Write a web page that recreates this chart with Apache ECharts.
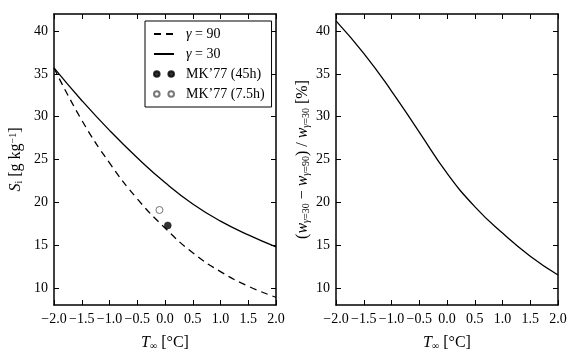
<!DOCTYPE html>
<html>
<head>
<meta charset="utf-8">
<script src="https://cdn.jsdelivr.net/npm/echarts@6/dist/echarts.min.js"></script>
<style>
  html, body { margin: 0; padding: 0; background: #fff; }
  #chart { width: 581px; height: 356px; }
</style>
</head>
<body>
<div id="chart"></div>
<script>
// temperature grid, T_inf [°C]
var tInf = [-2.0, -1.5, -1.0, -0.5, 0.0, 0.5, 1.0, 1.5, 2.0];
// left panel: bulk salinity S_i [g/kg]
var sGamma90 = [35.7, 29.6, 24.6, 20.4, 17.0, 14.1, 11.9, 10.2, 8.9];
var sGamma30 = [35.7, 31.9, 28.4, 25.2, 22.3, 19.8, 17.8, 16.2, 14.8];
// observations
var mk45h = [[0.05, 17.3]];
var mk75h = [[-0.1, 19.1]];
// right panel: relative difference [%]
var relDiff = [41.2, 37.4, 33.0, 28.2, 23.4, 19.5, 16.4, 13.7, 11.5];
// tick labels
var yTicks = [10, 15, 20, 25, 30, 35, 40];

var FONT = 'Liberation Serif';
var pairs = function(xs, ys) { return xs.map(function(x, i) { return [x, ys[i]]; }); };
var fmtX = function(v) { return v.toFixed(1).replace('-', '\u2212'); };

var rich = {
  it: { fontFamily: FONT, fontStyle: 'italic', fontSize: 16, color: '#000' },
  rm: { fontFamily: FONT, fontSize: 16, color: '#000' },
  sub: { fontFamily: FONT, fontSize: 10, color: '#000', verticalAlign: 'bottom', padding: [6, 0, 0, 0] },
  subit: { fontFamily: FONT, fontStyle: 'italic', fontSize: 10, color: '#000', verticalAlign: 'bottom', padding: [6, 0, 0, 0] },
  sup: { fontFamily: FONT, fontSize: 10, color: '#000', verticalAlign: 'top', padding: [0, 0, 6, 0] }
};

function xAxes(grid) {
  var base = {
    type: 'value', gridIndex: grid, min: -2, max: 2, interval: 0.5,
    axisLine: { show: true, onZero: false, lineStyle: { color: '#000', width: 1.5 } },
    axisTick: { show: true, inside: true, length: 5, lineStyle: { color: '#000', width: 1 } },
    splitLine: { show: false }
  };
  return [
    Object.assign({}, base, {
      position: 'bottom',
      axisLabel: { formatter: fmtX, fontFamily: FONT, fontSize: 14, color: '#000', margin: 7 },
      name: '{it|T}{sub|\u221E}{rm| [\u00B0C]}',
      nameLocation: 'middle', nameGap: 30,
      nameTextStyle: { rich: rich }
    }),
    Object.assign({}, base, { position: 'top', axisLabel: { show: false } })
  ];
}

function yAxes(grid, name, gap) {
  var base = {
    type: 'value', gridIndex: grid, min: 8, max: 42,
    axisLine: { show: true, onZero: false, lineStyle: { color: '#000', width: 1.5 } },
    axisTick: { show: true, inside: true, length: 5, customValues: yTicks, lineStyle: { color: '#000', width: 1 } },
    splitLine: { show: false }
  };
  return [
    Object.assign({}, base, {
      position: 'left',
      axisLabel: { customValues: yTicks, fontFamily: FONT, fontSize: 14, color: '#000', margin: 6 },
      name: name, nameLocation: 'middle', nameGap: gap,
      nameTextStyle: { rich: rich }
    }),
    Object.assign({}, base, { position: 'right', axisLabel: { show: false } })
  ];
}

var dotsIcon = 'path://M0,0M20,12M0,6a2.8,2.8 0 1,0 5.6,0a2.8,2.8 0 1,0 -5.6,0M14.4,6a2.8,2.8 0 1,0 5.6,0a2.8,2.8 0 1,0 -5.6,0';
var noDot = { color: 'rgba(0,0,0,0)', borderColor: 'rgba(0,0,0,0)', borderWidth: 0 };

var option = {
  animation: false,
  backgroundColor: '#fff',
  grid: [
    { left: 54, top: 14, width: 222, height: 291 },
    { left: 336, top: 14, width: 222, height: 291 }
  ],
  xAxis: xAxes(0).concat(xAxes(1)),
  yAxis: yAxes(0, '{it|S}{sub|i}{rm| [g kg}{sup|\u22121}{rm|]}', 30)
    .concat(yAxes(1, '{rm|(}{it|w}{subit|\u03B3}{sub|=30}{rm| \u2212 }{it|w}{subit|\u03B3}{sub|=90}{rm|) / }{it|w}{subit|\u03B3}{sub|=30}{rm| [%]}', 25)),
  legend: {
    left: 145, top: 21,
    orient: 'vertical',
    backgroundColor: '#fff',
    borderColor: '#000', borderWidth: 1, borderRadius: 0,
    padding: [6, 7, 6, 8],
    itemGap: 6, itemWidth: 20, itemHeight: 12,
    data: [
      { name: '\u03B3 = 90', itemStyle: noDot },
      { name: '\u03B3 = 30', itemStyle: noDot },
      { name: 'MK\u201977 (45h)', icon: dotsIcon },
      { name: 'MK\u201977 (7.5h)', icon: dotsIcon }
    ],
    formatter: function(n) {
      if (n.charAt(0) === '\u03B3') return '{it|\u03B3}{rm|' + n.slice(1) + '}';
      return '{rm|' + n + '}';
    },
    textStyle: { fontFamily: FONT, fontSize: 14, color: '#000', padding: [0, 0, 0, 7], rich: {
      it: { fontFamily: FONT, fontStyle: 'italic', fontSize: 14, color: '#000' },
      rm: { fontFamily: FONT, fontSize: 14, color: '#000' }
    } }
  },
  series: [
    {
      name: '\u03B3 = 90', type: 'line', xAxisIndex: 0, yAxisIndex: 0,
      data: pairs(tInf, sGamma90), symbol: 'none', smooth: true,
      itemStyle: { color: '#000' },
      lineStyle: { color: '#000', width: 1.3, type: [7, 5] }
    },
    {
      name: '\u03B3 = 30', type: 'line', xAxisIndex: 0, yAxisIndex: 0,
      data: pairs(tInf, sGamma30), symbol: 'none', smooth: true,
      itemStyle: { color: '#000' },
      lineStyle: { color: '#000', width: 1.3 }
    },
    {
      name: 'MK\u201977 (45h)', type: 'scatter', xAxisIndex: 0, yAxisIndex: 0,
      data: mk45h, symbolSize: 7, z: 5,
      itemStyle: { color: '#000', borderColor: '#000', borderWidth: 0.5 }
    },
    {
      name: 'MK\u201977 (7.5h)', type: 'scatter', xAxisIndex: 0, yAxisIndex: 0,
      data: mk75h, symbolSize: 7, z: 5,
      itemStyle: { color: '#fff', borderColor: '#555', borderWidth: 1 }
    },
    {
      name: 'relDiff', type: 'line', xAxisIndex: 2, yAxisIndex: 2,
      data: pairs(tInf, relDiff), symbol: 'none', smooth: true,
      itemStyle: { color: '#000' },
      lineStyle: { color: '#000', width: 1.3 }
    }
  ]
};

var chart = echarts.init(document.getElementById('chart'), null, { renderer: 'canvas' });
chart.setOption(option);
</script>
</body>
</html>
